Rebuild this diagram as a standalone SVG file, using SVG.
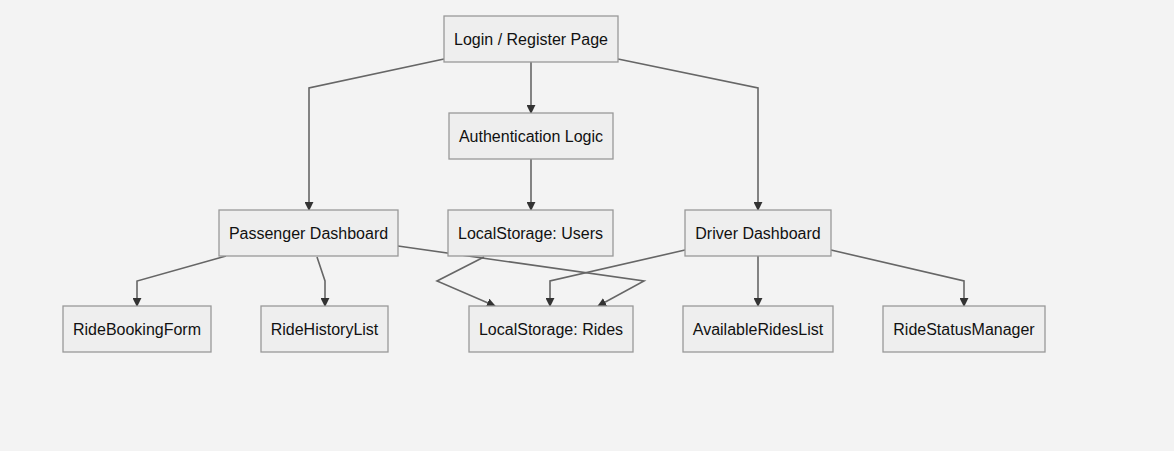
<svg xmlns="http://www.w3.org/2000/svg" width="1174" height="451" viewBox="0 0 1174 451">
<style>
.n rect{fill:#eeeeee;stroke:#999999;stroke-width:1.3}
.n text{font-family:"Liberation Sans",Arial,sans-serif;font-size:16px;fill:#111;text-anchor:middle}
.e path{fill:none;stroke:#666666;stroke-width:1.6;marker-end:url(#arr)}
</style>
<defs>
<marker id="arr" viewBox="0 0 10 10" refX="9" refY="5" markerWidth="9" markerHeight="9" markerUnits="userSpaceOnUse" orient="auto">
<path d="M0,0 L10,5 L0,10 z" fill="#333333"/>
</marker>
</defs>
<rect x="0" y="0" width="1174" height="451" fill="#f3f3f3"/>
<g id="connectors" class="e">
<path d="M444,59 L309,88 L309,210"/>
<path d="M531,62 L531,113"/>
<path d="M618,59 L758,88 L758,210"/>
<path d="M531,159 L531,210"/>
<path d="M226,256 L137,281 L137,306"/>
<path d="M317,257 L325,281 L325,306"/>
<path d="M398,246 L644,281 L598,306"/>
<path d="M484,257 L437,281 L495,306"/>
<path d="M685,250 L550,281 L550,306"/>
<path d="M758,256 L758,306"/>
<path d="M831,250 L964,281 L964,306"/>
</g>
<g id="login" class="n"><rect x="444" y="16" width="174" height="46"/><text x="531" y="45">Login / Register Page</text></g>
<g id="auth" class="n"><rect x="449" y="113" width="164" height="46"/><text x="531" y="142">Authentication Logic</text></g>
<g id="passenger" class="n"><rect x="219" y="210" width="179" height="46"/><text x="308.5" y="239">Passenger Dashboard</text></g>
<g id="lsusers" class="n"><rect x="448" y="210" width="165" height="46"/><text x="530.5" y="239">LocalStorage: Users</text></g>
<g id="driver" class="n"><rect x="685" y="210" width="146" height="46"/><text x="758" y="239">Driver Dashboard</text></g>
<g id="booking" class="n"><rect x="63" y="306" width="148" height="46"/><text x="137" y="335">RideBookingForm</text></g>
<g id="history" class="n"><rect x="261" y="306" width="127" height="46"/><text x="324.5" y="335">RideHistoryList</text></g>
<g id="lsrides" class="n"><rect x="469" y="306" width="164" height="46"/><text x="551" y="335">LocalStorage: Rides</text></g>
<g id="available" class="n"><rect x="683" y="306" width="150" height="46"/><text x="758" y="335">AvailableRidesList</text></g>
<g id="status" class="n"><rect x="883" y="306" width="162" height="46"/><text x="964" y="335">RideStatusManager</text></g>
</svg>
